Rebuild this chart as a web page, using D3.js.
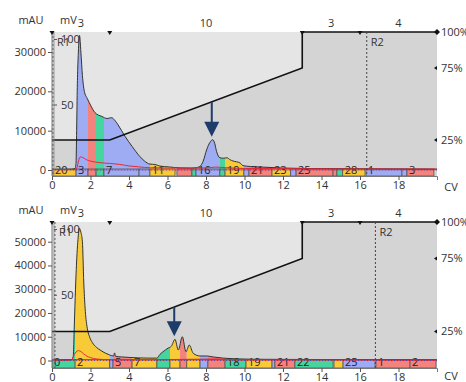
<!DOCTYPE html>
<html>
<head>
<meta charset="utf-8">
<script src="https://cdn.jsdelivr.net/npm/d3@7"></script>
<style>
  body { margin: 0; background: #fff; }
  svg text { font-family: "Open Sans", sans-serif; font-size: 11px; fill: #333; }
</style>
</head>
<body>
<div id="chart"></div>
<script>
// shared method / axis values
const cvTicks = [0, 2, 4, 6, 8, 10, 12, 14, 16, 18];
const phaseEdges = [0, 3, 13, 16, 20];
const phaseNames = ["3", "10", "3", "4"];
const gradCV = [0, 3, 13, 13, 20];
const gradPct = [25, 25, 75, 100, 100];
const pctTicks = [100, 75, 25];
const mvTicks = [50, 100];

// run 1 (upper chromatogram): [CV, mAU]
const run1Trace = [[0,150],[0.5,150],[1.0,200],[1.2,400],[1.25,2000],[1.28,10000],[1.31,20000],[1.37,30000],
  [1.43,34200],[1.5,30000],[1.58,24000],[1.68,20000],[1.83,18200],[2.0,16500],[2.23,14600],[2.6,13600],
  [2.86,13100],[3.1,13300],[3.25,12700],[3.43,11500],[3.8,8500],[4.16,6000],[4.57,3400],[4.8,2300],
  [5.09,1500],[5.35,1400],[5.6,1000],[6.1,770],[6.6,550],[7.2,500],[7.5,600],[7.7,1000],[7.85,2200],
  [8.03,5100],[8.2,7000],[8.35,7700],[8.45,6800],[8.55,4700],[8.73,3100],[8.9,3000],[9.1,3100],
  [9.25,2600],[9.4,2300],[9.77,1800],[9.92,1100],[10.3,900],[10.8,770],[12,500],[14,350],[16,300],
  [18,250],[20,200]];
// conductivity trace [CV, mV]
const run1Cond = [[0,0.3],[1.2,0.3],[1.3,2],[1.38,7],[1.47,10],[1.6,9.5],[1.8,7.8],[2.0,6.8],[2.5,5.6],
  [3.0,5],[3.5,4.3],[4.05,3],[4.5,2.4],[5.1,1.7],[6,1.5],[7,1.4],[8,1.6],[8.5,2.2],[9,1.8],[10,1.2],
  [12,1],[15,0.8],[20,0.7]];
const run1FracStart = [0.05,1.25,1.87,2.29,2.7,4.52,5.09,6.49,7.27,7.48,8.72,8.99,9.97,10.23,11.43,12.4,12.68,14.6,14.8,15.1,16.31,18.18,18.44];
const run1FracEnd   = [1.25,1.87,2.29,2.7,4.52,5.09,6.39,7.27,7.48,8.72,8.99,9.97,10.23,11.43,12.4,12.68,14.6,14.8,15.1,16.26,18.18,18.44,19.84];
const run1FracLabel = ["20","3","","","7","","11","","","16","","19","","21","23","","25","","","28","1","","3"];
const run1FracKind  = ["Y","B","R","G","B","B","Y","R","G","B","G","Y","B","R","Y","B","R","R","G","Y","B","B","R"];
const run1AuTicks = [0, 10000, 20000, 30000];
const run1Marks = [["R1", 0.05], ["R2", 16.35]];
const run1Arrow = 8.3;

// run 2 (lower chromatogram)
const run2Trace = [[0,200],[0.5,200],[1.0,300],[1.1,1500],[1.16,15000],[1.22,30000],[1.3,45000],[1.35,51000],
  [1.42,55700],[1.5,54000],[1.58,50000],[1.65,33000],[1.72,22000],[1.82,14200],[1.95,10000],[2.1,7500],
  [2.3,5600],[2.5,4400],[2.8,3000],[3.0,2300],[3.2,1900],[3.25,3200],[3.3,1800],[3.6,1500],[4.0,1300],
  [4.5,1100],[5.0,1000],[5.45,1000],[5.6,2500],[5.77,3700],[6.03,5200],[6.2,6000],[6.39,8900],[6.56,4400],
  [6.77,10000],[6.96,3700],[7.13,6500],[7.34,3000],[7.69,1900],[8.03,1900],[8.37,1500],[8.9,1000],
  [9.5,700],[11,500],[14,400],[17,350],[20,300]];
const run2Cond = [[0,0.3],[1.0,0.3],[1.1,2.5],[1.25,6.5],[1.38,7.5],[1.5,6.8],[1.65,5],[1.8,3.4],[2.0,2.2],
  [2.33,1.1],[3,0.6],[5,0.5],[8.6,1.2],[9.5,0.5],[20,0.4]];
const run2FracStart = [0,1.2,3.0,3.17,4.16,5.45,6.13,6.65,7.0,7.69,8.1,8.99,10.08,11.43,11.58,12.62,14.65,15.12,16.83,18.6];
const run2FracEnd   = [1.2,3.0,3.17,4.16,5.45,6.13,6.65,7.0,7.69,8.1,8.99,10.08,11.43,11.58,12.62,14.6,15.12,16.78,18.6,19.95];
const run2FracLabel = ["0","2","","5","7","","","","","","","18","19","","21","22","","25","1","2"];
const run2FracKind  = ["G","Y","B","R","Y","G","Y","R","Y","B","R","G","Y","B","R","G","Y","B","R","R"];
const run2AuTicks = [0, 10000, 20000, 30000, 40000, 50000];
const run2Marks = [["R1", 0.15], ["R2", 16.8]];
const run2Arrow = 6.35;

const fracFill = { Y: "#f8ca38", R: "#f2837d", G: "#45d6a0", B: "#9dacf3" };
const navy = "#1d3c6a";

const svg = d3.select("#chart").append("svg").attr("width", 466).attr("height", 382);
const x = d3.scaleLinear().domain([0, 20]).range([52, 437]);

function drawRun(id, geo, trace, cond, fStart, fEnd, fLabel, fKind, auTicks, marks, arrowCV) {
  const top = geo.top, bottom = geo.bottom;
  const yAU = d3.scaleLinear().domain([0, geo.auRef]).range([geo.zeroY, geo.refY]);
  const yPct = d3.scaleLinear().domain([0, 100]).range([bottom, top]);
  const yMV = d3.scaleLinear().domain([0, 100]).range([geo.zeroY, top + 7]);
  const g = svg.append("g");

  g.append("clipPath").attr("id", "clip" + id).append("rect")
    .attr("x", x(0)).attr("y", top).attr("width", x(20) - x(0)).attr("height", bottom - top);

  // background + gradient shading
  g.append("rect").attr("x", x(0)).attr("y", top).attr("width", x(20) - x(0)).attr("height", bottom - top)
    .attr("fill", "#e5e5e5");
  const grad = gradCV.map((c, i) => [c, gradPct[i]]);
  g.append("path").attr("fill", "#d4d4d4")
    .attr("d", d3.area().x(d => x(d[0])).y0(bottom).y1(d => yPct(d[1]))(grad));

  const plot = g.append("g").attr("clip-path", "url(#clip" + id + ")");

  // fraction-coloured peak areas
  const area = d3.area().curve(d3.curveMonotoneX).x(d => x(d[0])).y0(yAU(0)).y1(d => yAU(d[1]));
  fStart.forEach((s, i) => {
    const cid = "fc" + id + "_" + i;
    plot.append("clipPath").attr("id", cid).append("rect")
      .attr("x", x(s)).attr("y", top).attr("width", x(fEnd[i]) - x(s)).attr("height", bottom - top);
    plot.append("path").attr("clip-path", "url(#" + cid + ")")
      .attr("fill", fracFill[fKind[i]]).attr("d", area(trace));
  });

  // fraction bar
  const bar = plot.append("g");
  fStart.forEach((s, i) => {
    bar.append("rect").attr("x", x(s)).attr("y", yAU(0) - 1)
      .attr("width", x(fEnd[i]) - x(s)).attr("height", bottom - yAU(0) + 1)
      .attr("fill", fracFill[fKind[i]]).attr("stroke", "#555").attr("stroke-width", 0.8);
  });
  fStart.forEach((s, i) => {
    if (fLabel[i]) bar.append("text").attr("x", x(s) + 2).attr("y", bottom - 2)
      .style("fill", "#222").text(fLabel[i]);
  });

  // traces
  plot.append("path").attr("fill", "none").attr("stroke", "#333").attr("stroke-width", 1)
    .attr("d", d3.line().curve(d3.curveMonotoneX).x(d => x(d[0])).y(d => yAU(d[1]))(trace));
  plot.append("path").attr("fill", "none").attr("stroke", "#e8283c").attr("stroke-width", 1)
    .attr("d", d3.line().curve(d3.curveMonotoneX).x(d => x(d[0])).y(d => yMV(d[1]))(cond));
  plot.append("line").attr("x1", x(0)).attr("x2", x(20)).attr("y1", yAU(0)).attr("y2", yAU(0))
    .attr("stroke", "#3040b0").attr("stroke-width", 0.8).attr("stroke-dasharray", "1,2");
  plot.append("line").attr("x1", x(0) + 1.5).attr("x2", x(20)).attr("y1", yAU(0)).attr("y2", yAU(0))
    .attr("stroke", "#e02040").attr("stroke-width", 0.8).attr("stroke-dasharray", "1,2");

  // gradient line
  g.append("path").attr("fill", "none").attr("stroke", "#111").attr("stroke-width", 1.6)
    .attr("d", d3.line().x(d => x(d[0])).y(d => yPct(d[1]))(grad));

  // run marks
  marks.forEach(m => {
    g.append("line").attr("x1", x(m[1])).attr("x2", x(m[1])).attr("y1", top).attr("y2", bottom)
      .attr("stroke", "#444").attr("stroke-width", 1).attr("stroke-dasharray", "2,2");
    g.append("text").attr("x", x(m[1]) + 4).attr("y", top + 14).text(m[0]);
  });

  // arrow on the peak of interest
  const near = trace.filter(d => Math.abs(d[0] - arrowCV) < 0.15);
  const tip = yAU(d3.max(near, d => d[1])) - 3;
  const gy = yPct(d3.scaleLinear().domain(gradCV.slice(1, 3)).range(gradPct.slice(1, 3))(arrowCV));
  g.append("line").attr("x1", x(arrowCV)).attr("x2", x(arrowCV)).attr("y1", gy).attr("y2", tip - 14)
    .attr("stroke", navy).attr("stroke-width", 2);
  g.append("path").attr("fill", navy)
    .attr("d", `M${x(arrowCV) - 7.5},${tip - 15} L${x(arrowCV) + 7.5},${tip - 15} L${x(arrowCV)},${tip} Z`);

  // left mAU axis
  g.append("line").attr("x1", x(0)).attr("x2", x(0)).attr("y1", top).attr("y2", bottom)
    .attr("stroke", "#777");
  const la = g.append("g").attr("transform", `translate(${x(0)},0)`)
    .call(d3.axisLeft(yAU).tickValues(auTicks).tickFormat(d3.format("d")).tickSize(4).tickPadding(2));
  la.select(".domain").remove();
  la.selectAll("line").attr("stroke", "#555");

  // mV axis
  g.append("line").attr("x1", 54).attr("x2", 54).attr("y1", top).attr("y2", bottom)
    .attr("stroke", "#888").attr("stroke-width", 0.8);
  const ma = g.append("g").attr("transform", "translate(54,0)")
    .call(d3.axisRight(yMV).tickValues(mvTicks).tickSize(3).tickPadding(4));
  ma.select(".domain").remove();
  ma.selectAll("line").attr("stroke", "#555");

  // x axis
  const xa = g.append("g").attr("transform", `translate(0,${bottom})`)
    .call(d3.axisBottom(x).tickValues(cvTicks).tickSize(4).tickPadding(1));
  xa.select(".domain").attr("stroke", "#777");
  xa.selectAll("line").attr("stroke", "#555");
  d3.selectAll(".tick text").style("font-size", "11px").style("font-family", '"Open Sans", sans-serif').attr("fill", "#333");
  g.append("text").attr("x", 451).attr("y", Math.min(bottom + 15, 380)).attr("text-anchor", "middle").text("CV");

  // right % axis
  pctTicks.forEach(p => {
    if (p === 100) {
      g.append("path").attr("fill", "#111")
        .attr("d", `M${x(20)},${yPct(p) - 3} L${x(20) + 3},${yPct(p)} L${x(20)},${yPct(p) + 3} L${x(20) - 3},${yPct(p)} Z`);
    } else {
      g.append("path").attr("fill", "#111")
        .attr("d", `M${x(20) - 3},${yPct(p)} L${x(20)},${yPct(p) - 2} L${x(20)},${yPct(p) + 2} Z`);
    }
    g.append("text").attr("x", x(20) + 4).attr("y", yPct(p)).attr("dy", "0.35em").text(p + "%");
  });

  // method phases
  phaseEdges.slice(0, -1).forEach(e => {
    g.append("path").attr("fill", "#111")
      .attr("d", `M${x(e) - 2.5},${top - 1} L${x(e) + 2.5},${top - 1} L${x(e)},${top + 3} Z`);
  });
  phaseNames.forEach((n, i) => {
    g.append("text").attr("x", x((phaseEdges[i] + phaseEdges[i + 1]) / 2)).attr("y", top - 5)
      .attr("text-anchor", "middle").text(n);
  });

  // axis titles
  g.append("text").attr("x", 31).attr("y", top - 8).attr("text-anchor", "middle").text("mAU");
  g.append("text").attr("x", 60).attr("y", top - 8).text("mV");
}

drawRun(1, { top: 32, bottom: 176, zeroY: 170, refY: 52, auRef: 30000 },
  run1Trace, run1Cond, run1FracStart, run1FracEnd, run1FracLabel, run1FracKind, run1AuTicks, run1Marks, run1Arrow);
drawRun(2, { top: 222, bottom: 368, zeroY: 360.5, refY: 241.7, auRef: 50000 },
  run2Trace, run2Cond, run2FracStart, run2FracEnd, run2FracLabel, run2FracKind, run2AuTicks, run2Marks, run2Arrow);
</script>
</body>
</html>
